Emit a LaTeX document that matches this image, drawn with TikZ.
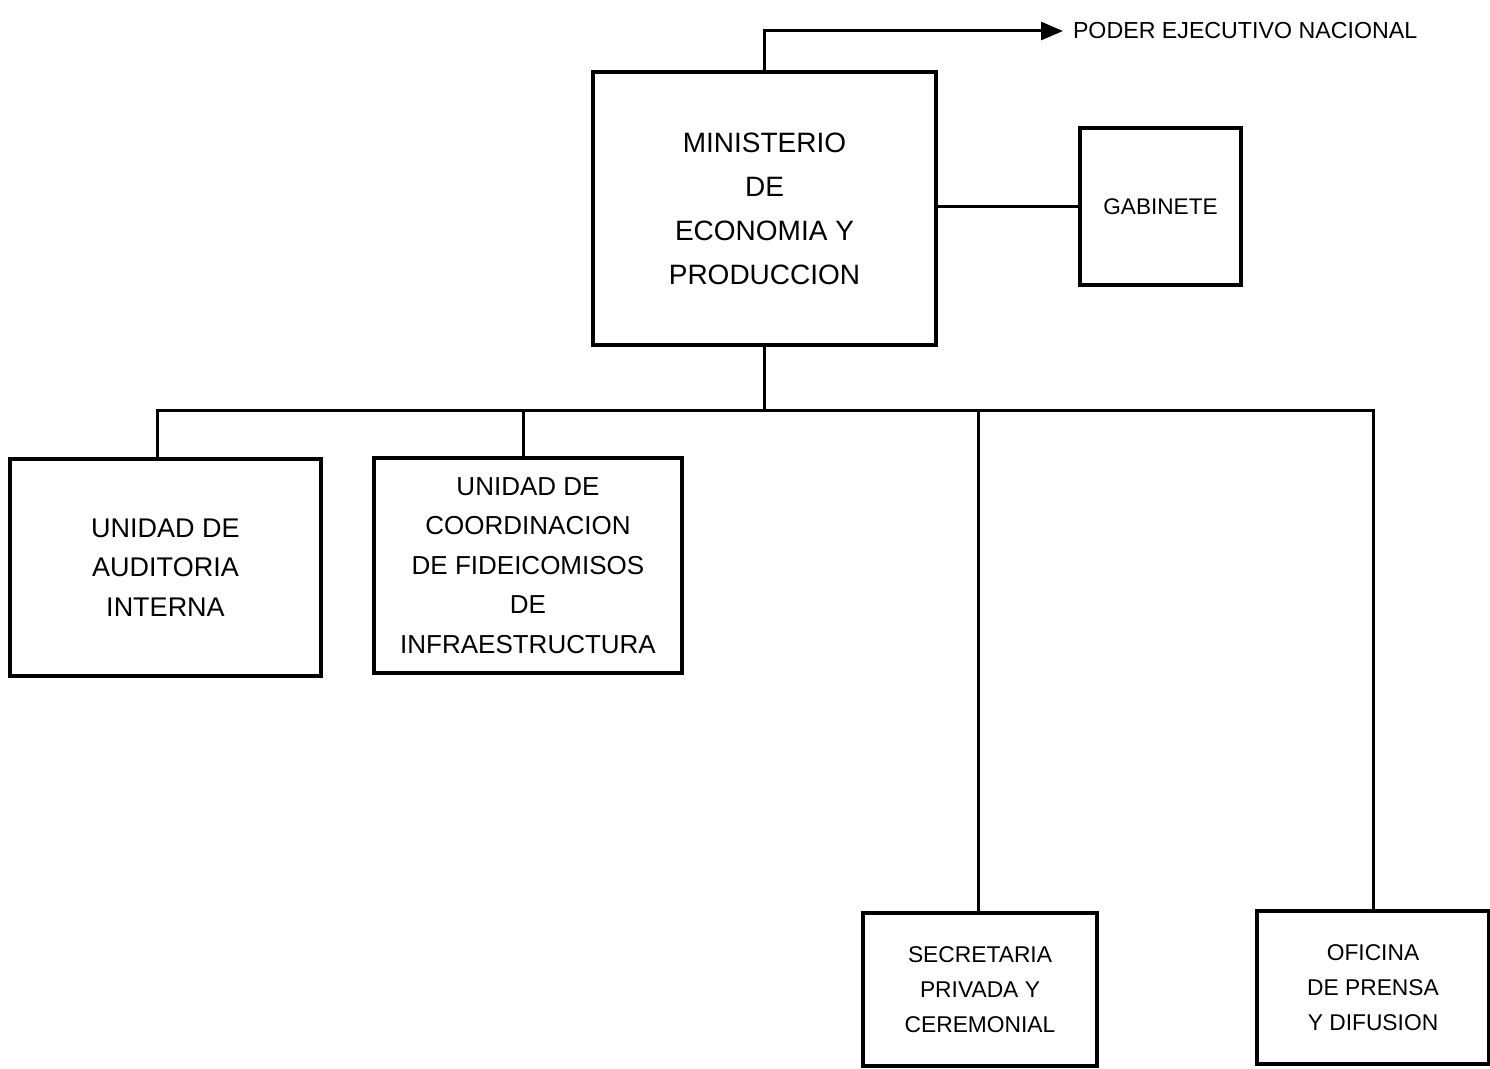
\documentclass[tikz,border=0pt]{standalone}
\usepackage{fontspec}
\setmainfont{Liberation Sans}
\usetikzlibrary{arrows.meta}
\begin{document}
\begin{tikzpicture}[x=0.5pt,y=-0.5pt,
  box/.style={draw, line width=1.8pt, align=center, inner sep=0pt, outer sep=0pt},
  conn/.style={line width=1.5pt},
  bigtxt/.style={font=\fontsize{14}{22}\selectfont},
  midtxt/.style={font=\fontsize{13.5}{19.8}\selectfont},
  smalltxt/.style={font=\fontsize{11.4}{17.5}\selectfont}]
\useasboundingbox (0,0) rectangle (1490,1069);
\node[box, bigtxt, minimum width=171.5pt, minimum height=136.5pt] (min) at (764.5,208.5)
  {MINISTERIO\\DE\\ECONOMIA Y\\PRODUCCION};
\node[box, font=\fontsize{11.3}{14}\selectfont, minimum width=80.5pt, minimum height=78.5pt] (gab) at (1160.5,206.5) {GABINETE};
\node[anchor=west, font=\fontsize{11.6}{14}\selectfont, inner sep=0pt, outer sep=5pt] (pen) at (1063,31) {PODER EJECUTIVO NACIONAL};
\node[box, midtxt, minimum width=155.5pt, minimum height=108.5pt] (aud) at (165.5,567.5)
  {UNIDAD DE\\AUDITORIA\\INTERNA};
\node[box, font=\fontsize{13}{19.8}\selectfont, minimum width=154pt, minimum height=107.5pt] (fid) at (528,565.5)
  {UNIDAD DE\\COORDINACION\\DE FIDEICOMISOS\\DE\\INFRAESTRUCTURA};
\node[box, smalltxt, minimum width=117pt, minimum height=76.5pt] (sec) at (980,989.5)
  {SECRETARIA\\PRIVADA Y\\CEREMONIAL};
\node[box, smalltxt, minimum width=116pt, minimum height=76.5pt] (ofi) at (1373,987.5)
  {OFICINA\\DE PRENSA\\Y DIFUSION};
\coordinate (bus) at (764.5,411);
\draw[conn, -{Triangle[length=11pt,width=9pt]}] (min.north) |- (pen.west);
\draw[conn] (min.east |- gab.west) -- (gab.west);
\draw[conn] (min.south) -- (bus);
\draw[conn] ([xshift=-4pt]aud.north) -- ([xshift=-4pt]aud.north |- bus) -- (ofi.north |- bus) -- (ofi.north);
\draw[conn] ([xshift=-2.5pt]fid.north) -- ([xshift=-2.5pt]fid.north |- bus);
\draw[conn] ([xshift=-1pt]sec.north) -- ([xshift=-1pt]sec.north |- bus);
\end{tikzpicture}
\end{document}
